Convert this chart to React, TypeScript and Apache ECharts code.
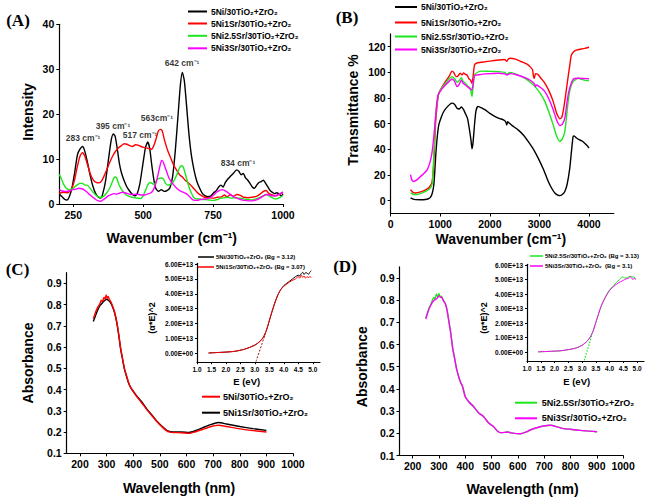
import React, { useEffect, useRef } from 'react';
import * as echarts from 'echarts';

// ---------- names ----------
const N_NI = '5Ni/30TiO₂+ZrO₂';
const N_SR1 = '5Ni1Sr/30TiO₂+ZrO₂';
const N_SR25 = '5Ni2.5Sr/30TiO₂+ZrO₂';
const N_SR3 = '5Ni3Sr/30TiO₂+ZrO₂';

// ---------- (A) Raman ----------
const ramanNi = [[200,2.2],[210,1.6],[220,1.0],[228,0.9],[235,1.5],[245,3.5],[255,7],[265,11],[275,12.3],[283,12.8],[290,12],[300,9.5],[310,6.5],[320,4],[330,2.3],[340,1.5],[348,1.3],[355,2.2],[365,5],[375,9.5],[385,14],[393,15.6],[400,15],[408,12],[415,9],[422,7],[430,5.5],[440,4],[450,3],[460,2.2],[470,1.8],[478,2.2],[488,4.5],[498,8.5],[508,12.5],[516,13.8],[523,12.5],[530,9],[538,5.5],[545,3.5],[555,2.8],[565,3.2],[575,2.8],[585,3],[595,3.5],[605,6],[615,12],[625,20],[633,26.5],[640,29.3],[647,27.5],[655,22],[663,16],[672,11],[682,7.5],[692,5],[702,3.5],[712,2.3],[722,1.8],[732,1.6],[742,1.8],[752,2.5],[762,3],[770,3.8],[778,4.2],[786,3.8],[794,4.8],[802,5.5],[812,6.2],[822,6.8],[834,7.6],[842,7.3],[850,6.5],[858,6.8],[866,5.8],[874,5.3],[882,4.6],[890,3.8],[898,3.5],[906,4.2],[914,4.8],[922,5],[930,5.3],[938,4.6],[946,3.8],[954,3],[962,2.6],[970,2.3],[978,2.5],[986,2.2],[994,1.8],[1000,2.2]];
const ramanSr1 = [[200,2.4],[215,2.6],[230,2.5],[245,3.5],[255,5.5],[265,8.5],[275,10.8],[283,11.4],[292,10.5],[302,8.5],[312,6.5],[322,5.3],[332,4.8],[342,4.7],[352,5.2],[362,6.5],[372,8],[382,9.5],[392,10.8],[402,11.8],[412,12.5],[422,13],[432,13.4],[442,13.3],[452,13],[462,12.8],[472,13.2],[482,13.1],[492,12.8],[502,12.6],[512,12.5],[522,12.3],[530,12.2],[538,13],[546,14.5],[554,16.2],[562,16.6],[568,16.3],[575,14.5],[582,13],[590,11.5],[600,10],[610,8.5],[620,7.5],[630,6.5],[640,6],[650,5.3],[660,4.8],[670,4.2],[680,3.5],[690,2.8],[700,2.2],[710,1.8],[720,1.5],[735,1.4],[750,1.3],[765,1.5],[780,1.6],[790,2],[800,1.6],[812,2.1],[822,1.7],[835,2.1],[848,1.9],[860,1.5],[875,1.4],[890,1.5],[905,1.7],[918,2.2],[930,2.8],[940,3],[950,2.3],[962,2],[975,1.8],[988,2.2],[1000,2.5]];
const ramanSr25 = [[200,6.6],[208,5.5],[216,4.3],[225,3.5],[235,3.2],[245,3.3],[255,3.8],[265,4.3],[275,4.6],[283,4.6],[292,4.2],[300,4.2],[310,3.5],[320,2.7],[330,2],[340,1.6],[350,1.5],[360,1.8],[370,2.5],[380,3.5],[390,5],[398,6],[405,5.8],[412,4.5],[420,3.5],[430,2.6],[440,2],[450,1.7],[460,1.5],[470,1.4],[480,1.3],[490,1.2],[500,1.8],[508,3],[516,4.2],[524,4.8],[532,4.6],[540,4.3],[548,5.3],[556,5.7],[564,5.8],[572,5.6],[580,4.6],[588,4.2],[596,4.3],[604,4.6],[612,5.4],[620,6.5],[628,7.8],[636,8.5],[642,8.4],[648,7.3],[656,5.5],[664,3.8],[672,2.5],[680,1.5],[690,1.1],[700,1.1],[710,1],[720,1],[735,0.9],[750,0.8],[765,1],[778,1.3],[790,1.4],[800,1.5],[812,1.3],[825,1.4],[840,1.3],[855,1.2],[870,1],[885,0.9],[900,1.1],[915,1.4],[928,1.8],[940,2.1],[950,1.8],[962,1.4],[975,1.1],[988,1.4],[1000,1.9]];
const ramanSr3 = [[200,3.2],[210,2.9],[222,2.8],[235,2.9],[248,3.2],[260,3.3],[270,3.5],[280,3.4],[290,3.1],[300,2.6],[310,2],[320,1.5],[330,1],[340,0.7],[348,0.6],[356,0.9],[365,1.3],[375,1.8],[385,2.1],[395,2.3],[405,2.2],[415,2.4],[425,2.6],[435,2.5],[445,2.3],[455,2.1],[465,2.1],[475,2.2],[485,2.1],[495,2],[505,2],[515,2.2],[525,2.4],[535,3],[545,4.5],[553,6.5],[560,8.5],[566,9.7],[572,9.3],[578,8.2],[585,7],[592,5.8],[600,5],[610,4.2],[620,3.5],[630,3],[640,2.7],[650,2.4],[660,2],[668,1.5],[676,1],[684,0.8],[694,0.8],[705,1],[718,1.1],[730,1.2],[742,1.5],[752,2],[762,2.6],[772,3],[782,3.2],[792,3],[802,2.6],[812,2.1],[822,1.7],[835,1.3],[848,1],[860,0.8],[875,0.7],[890,0.7],[905,0.9],[918,1.3],[930,1.8],[942,2.1],[952,2],[962,1.8],[975,1.9],[988,2.2],[1000,2.7]];
const ramanPeaks = [[285,14.7,'283 cm⁻¹'],[392,17.3,'395 cm⁻¹'],[489,15.3,'517 cm⁻¹'],[549,19.1,'563cm⁻¹'],[639,31.3,'642 cm⁻¹'],[839,9.1,'834 cm⁻¹']];
const ramanXTicks = [250, 500, 750, 1000];
const ramanYTicks = [0, 10, 20, 30, 40];

// ---------- (B) FTIR ----------
const ftirNi = [[400,2.1],[450,1.2],[500,0.8],[600,0.7],[700,0.9],[760,1.5],[800,2.5],[840,6],[870,12.4],[890,23],[910,36],[940,50],[970,59],[1020,65],[1070,69.5],[1150,73.5],[1237,76],[1290,75],[1338,72],[1380,71.5],[1425,73],[1470,71],[1505,68],[1550,64],[1590,55],[1620,47],[1640,40.4],[1660,45],[1692,60],[1720,70],[1759,73.5],[1800,73],[1850,72],[1906,70.8],[2000,68],[2107,65.6],[2200,64],[2274,63],[2320,61.5],[2341,59],[2360,61.5],[2388,60.5],[2450,58.5],[2575,55],[2680,51],[2776,46],[2880,40],[2977,33],[3080,24.5],[3178,15],[3250,9.5],[3311,6],[3370,4.3],[3411,3.9],[3460,4.8],[3512,7.2],[3560,13],[3612,25.4],[3650,40],[3679,50],[3700,50.5],[3746,48.8],[3800,47.5],[3860,46.5],[3913,44.8],[3960,43],[4000,41]];
const ftirSr1 = [[400,8.5],[450,6.5],[501,6],[600,6.8],[702,8.5],[780,10.5],[836,15],[870,30],[903,59],[940,76],[970,83.8],[1040,89],[1104,92.8],[1180,97],[1237,101],[1270,100],[1317,96.7],[1350,97],[1404,99.3],[1440,98],[1470,99.5],[1505,98.5],[1540,98],[1572,95.4],[1610,94],[1639,91.5],[1660,96],[1692,106],[1750,107.5],[1906,108.3],[2000,108.8],[2174,109.7],[2300,110],[2341,108.5],[2370,110.2],[2408,111],[2500,110.5],[2642,108.3],[2750,106.5],[2810,104.5],[2860,102],[2880,97],[2897,95.4],[2920,99],[2964,98.5],[3040,95],[3111,91.5],[3200,85],[3278,77.2],[3340,69],[3378,65.6],[3411,63.8],[3450,65],[3478,69.5],[3520,80],[3565,92.8],[3610,105],[3645,113.5],[3700,116.5],[3746,117.4],[3850,118.2],[3913,118.7],[4000,119.6]];
const ftirSr25 = [[400,6],[450,5],[501,4.7],[600,5.5],[702,7.2],[780,9],[836,13],[870,35],[903,64.3],[940,78],[970,83.8],[1040,88.5],[1104,91.5],[1180,95],[1237,96.7],[1290,95],[1338,92.3],[1380,93.5],[1425,95.9],[1460,93],[1505,91.5],[1560,89],[1605,87.6],[1625,84],[1639,81.1],[1660,88],[1692,98],[1760,100.3],[1840,101],[2000,100.8],[2174,100.6],[2300,100],[2341,98.5],[2408,100],[2500,99],[2600,97.5],[2709,95.4],[2810,92.5],[2910,88.9],[3010,84],[3111,77.2],[3200,68],[3278,59.1],[3350,50],[3411,46.1],[3460,48],[3512,53.9],[3545,65],[3579,77.2],[3620,87],[3679,92.8],[3779,95.4],[3900,94],[4000,93.4]];
const ftirSr3 = [[400,20.2],[430,16],[468,15],[520,16],[568,17.6],[650,20.5],[736,24],[800,31],[836,38.3],[870,50],[903,64.3],[930,76],[957,82.4],[1030,87],[1104,90.2],[1180,93],[1237,94.9],[1290,93],[1338,88.9],[1380,90.5],[1425,94],[1460,91.5],[1505,90.2],[1560,88.5],[1625,86.3],[1650,88],[1692,97.4],[1800,98.3],[1906,98.8],[2174,99.3],[2300,98.8],[2341,98],[2408,99],[2550,98],[2709,95.9],[2830,93.5],[2900,91],[2920,89],[2944,90.2],[3030,88],[3111,85],[3200,78.5],[3278,70.8],[3350,62.5],[3411,58.6],[3460,59.5],[3512,64.3],[3550,75],[3592,85],[3679,94.6],[3779,95.4],[3900,95.2],[4000,95]];
const ftirXTicks = [0, 1000, 2000, 3000, 4000];
const ftirYTicks = [0, 20, 40, 60, 80, 100, 120];

// ---------- (C)/(D) UV-vis ----------
const uvNi = [[250,0.735],[256,0.755],[262,0.775],[268,0.79],[275,0.805],[280,0.82],[285,0.815],[290,0.835],[294,0.825],[298,0.845],[302,0.83],[306,0.838],[310,0.825],[315,0.815],[322,0.795],[330,0.765],[338,0.72],[345,0.665],[352,0.6],[360,0.545],[367,0.5],[375,0.465],[382,0.435],[390,0.41],[400,0.39],[410,0.372],[430,0.34],[450,0.307],[470,0.277],[490,0.247],[510,0.222],[530,0.202],[550,0.198],[580,0.197],[610,0.194],[630,0.2],[660,0.212],[690,0.225],[720,0.232],[750,0.226],[800,0.215],[850,0.207],[900,0.2]];
const uvSr1 = [[250,0.72],[256,0.74],[262,0.76],[268,0.778],[275,0.795],[282,0.805],[288,0.815],[294,0.82],[300,0.825],[306,0.82],[315,0.808],[322,0.79],[330,0.76],[338,0.715],[345,0.66],[352,0.595],[360,0.54],[367,0.495],[375,0.46],[382,0.432],[390,0.41],[400,0.392],[410,0.375],[430,0.345],[450,0.31],[470,0.28],[490,0.25],[510,0.225],[530,0.205],[550,0.2],[580,0.2],[610,0.198],[630,0.205],[660,0.22],[690,0.235],[720,0.245],[750,0.238],[800,0.226],[850,0.216],[900,0.208]];
const uvSr25 = [[250,0.72],[256,0.74],[262,0.765],[268,0.778],[275,0.8],[280,0.812],[285,0.805],[290,0.828],[295,0.815],[300,0.83],[305,0.812],[310,0.818],[316,0.8],[322,0.79],[330,0.76],[337,0.71],[345,0.65],[352,0.585],[360,0.535],[367,0.49],[375,0.455],[382,0.43],[390,0.41],[400,0.365],[415,0.34],[432,0.32],[450,0.293],[470,0.275],[490,0.245],[508,0.23],[520,0.213],[533,0.203],[550,0.204],[560,0.206],[575,0.202],[609,0.198],[630,0.205],[647,0.215],[675,0.226],[698,0.233],[723,0.236],[750,0.229],[774,0.221],[800,0.218],[837,0.213],[870,0.21],[901,0.207]];
const uvSr3 = [[250,0.715],[256,0.74],[262,0.76],[268,0.775],[275,0.79],[282,0.8],[288,0.805],[294,0.81],[300,0.82],[306,0.815],[312,0.81],[318,0.795],[324,0.785],[330,0.76],[337,0.71],[345,0.65],[352,0.585],[360,0.535],[367,0.49],[375,0.455],[382,0.43],[390,0.41],[400,0.365],[415,0.34],[432,0.32],[450,0.293],[470,0.275],[490,0.245],[508,0.23],[520,0.213],[533,0.203],[550,0.204],[560,0.206],[575,0.202],[609,0.198],[630,0.205],[647,0.215],[675,0.226],[698,0.233],[723,0.236],[750,0.229],[774,0.221],[800,0.218],[837,0.213],[870,0.21],[901,0.207]];
const uvXTicks = [200, 300, 400, 500, 600, 700, 800, 900, 1000];
const uvYTicks = [0.1, 0.2, 0.3, 0.4, 0.5, 0.6, 0.7, 0.8, 0.9];

// ---------- Tauc insets (y in units of 1E+13) ----------
const taucNi = [[1.4,0.02],[1.7,0.05],[2.0,0.08],[2.3,0.13],[2.6,0.25],[2.8,0.38],[3.0,0.55],[3.1,0.68],[3.2,0.85],[3.3,1.1],[3.4,1.55],[3.5,2.2],[3.6,2.85],[3.7,3.45],[3.8,3.95],[3.9,4.3],[4.0,4.55],[4.1,4.7],[4.2,4.85],[4.3,5.0],[4.4,5.15],[4.5,5.25],[4.55,5.2],[4.6,5.35],[4.65,5.45],[4.7,5.3],[4.75,5.42],[4.8,5.4],[4.85,5.3],[4.9,5.45],[4.95,5.55]];
const taucSr1 = [[1.4,0.02],[1.7,0.05],[2.0,0.08],[2.3,0.13],[2.6,0.25],[2.8,0.38],[3.0,0.55],[3.1,0.68],[3.2,0.85],[3.3,1.1],[3.4,1.55],[3.5,2.2],[3.6,2.85],[3.7,3.45],[3.8,3.95],[3.9,4.3],[4.0,4.5],[4.1,4.65],[4.2,4.8],[4.3,4.9],[4.4,5.0],[4.5,5.15],[4.55,5.05],[4.6,5.25],[4.65,5.1],[4.7,5.2],[4.75,5.05],[4.8,5.15],[4.85,5.1],[4.9,5.15],[4.95,5.1]];
const taucFitC = [[3.04,-0.55],[3.36,1.3]];
const taucSr25 = [[1.4,0.03],[1.8,0.06],[2.2,0.1],[2.5,0.18],[2.8,0.3],[3.0,0.48],[3.1,0.62],[3.2,0.8],[3.3,1.05],[3.4,1.45],[3.5,2.05],[3.6,2.65],[3.7,3.2],[3.8,3.65],[3.9,4.0],[4.0,4.3],[4.1,4.5],[4.2,4.7],[4.3,4.9],[4.4,5.05],[4.45,5.2],[4.5,5.15],[4.6,5.1],[4.7,5.2],[4.8,5.2],[4.9,5.15],[4.95,5.05]];
const taucSr3 = [[1.4,0.03],[1.8,0.06],[2.2,0.1],[2.5,0.18],[2.8,0.3],[3.0,0.48],[3.1,0.62],[3.2,0.8],[3.3,1.05],[3.4,1.45],[3.5,2.05],[3.6,2.65],[3.7,3.2],[3.8,3.6],[3.9,3.95],[4.0,4.25],[4.1,4.45],[4.2,4.6],[4.3,4.75],[4.4,4.85],[4.5,4.95],[4.6,5.05],[4.7,5.1],[4.75,5.2],[4.8,5.12],[4.85,5.0],[4.9,5.1],[4.95,5.0]];
const taucFitD = [[3.08,-0.55],[3.36,1.2]];
const taucXTicks = [1.0, 1.5, 2.0, 2.5, 3.0, 3.5, 4.0, 4.5, 5.0];
const taucYTicks = [0, 1, 2, 3, 4, 5, 6];

// ---------- styling ----------
const BLACK = '#000000';
const RED = '#ff0000';
const GREEN = '#1ee61e';
const MAGENTA = '#ff00ff';
const SANS = '"Liberation Sans", Arial, sans-serif';
const SERIF = '"Liberation Serif", "Times New Roman", serif';

const plainFmt = (v: number) => String(v);

function xAxis(gridIndex: number, min: number, max: number, ticks: number[], fontSize: number, tickLen: number, fmt: (v: number) => string = plainFmt) {
  return {
    type: 'value', gridIndex, min, max,
    axisLine: { show: true, onZero: false, lineStyle: { color: BLACK, width: 1.2 } },
    axisTick: { show: true, inside: false, length: tickLen, customValues: ticks, lineStyle: { color: BLACK, width: 1 } },
    axisLabel: { show: true, customValues: ticks, color: BLACK, fontSize, fontWeight: 'bold', fontFamily: SANS, margin: tickLen + 2, formatter: fmt },
    splitLine: { show: false },
  };
}
function yAxis(gridIndex: number, min: number, max: number, ticks: number[], fontSize: number, tickLen: number, fmt: (v: number) => string = plainFmt) {
  return {
    type: 'value', gridIndex, min, max,
    axisLine: { show: true, onZero: false, lineStyle: { color: BLACK, width: 1.2 } },
    axisTick: { show: true, inside: false, length: tickLen, customValues: ticks, lineStyle: { color: BLACK, width: 1 } },
    axisLabel: { show: true, customValues: ticks, color: BLACK, fontSize, fontWeight: 'bold', fontFamily: SANS, margin: tickLen + 2, formatter: fmt },
    splitLine: { show: false },
  };
}
function line(name: string, data: number[][], color: string, idx: number, width = 1.4, type: any = 'solid') {
  return {
    type: 'line', name, data, xAxisIndex: idx, yAxisIndex: idx,
    showSymbol: false, symbol: 'none', smooth: 0.2,
    lineStyle: { color, width, type }, itemStyle: { color },
    silent: true, z: 3,
  };
}
function legendItem(x1: number, x2: number, y: number, tx: number, text: string, color: string, fontSize: number, lw = 2) {
  return [
    { type: 'line', shape: { x1, y1: y, x2, y2: y }, style: { stroke: color, lineWidth: lw } },
    { type: 'text', x: tx, y, style: { text, fill: BLACK, fontSize, fontWeight: 'bold', fontFamily: SANS, align: 'left', verticalAlign: 'middle' } },
  ];
}
function label(x: number, y: number, text: string, fontSize: number, rotate = false, family = SANS) {
  return {
    type: 'text', x, y, rotation: rotate ? Math.PI / 2 : 0,
    style: { text, fill: BLACK, fontSize, fontWeight: 'bold', fontFamily: family, align: 'center', verticalAlign: 'middle' },
  };
}

const uvFmt = (v: number) => v.toFixed(1);
const taucXFmt = (v: number) => v.toFixed(1);
const taucYFmt = (v: number) => (v === 0 ? '0.00E+00' : v.toFixed(2) + 'E+13');

function buildOption() {
  const grid = [
    { left: 59.3, top: 24.3, width: 223.7, height: 179.7 },   // A
    { left: 390.7, top: 33.9, width: 223.1, height: 179.6 },  // B
    { left: 66.7, top: 272.7, width: 226.3, height: 180.6 },  // C
    { left: 197, top: 263.3, width: 123, height: 98.9 },      // C inset
    { left: 399.5, top: 266.9, width: 223.6, height: 188.6 }, // D
    { left: 527, top: 264.3, width: 117, height: 96.7 },      // D inset
  ].map((g) => ({ ...g, containLabel: false }));

  const xAxes = [
    xAxis(0, 200, 1000, ramanXTicks, 10.5, 3),
    xAxis(1, 0, 4500, ftirXTicks, 10.5, 3),
    xAxis(2, 150, 1000, uvXTicks, 10.5, 3),
    xAxis(3, 1.0, 5.25, taucXTicks, 6.5, 2, taucXFmt),
    xAxis(4, 150, 1000, uvXTicks, 10.5, 3),
    xAxis(5, 1.0, 5.25, taucXTicks, 6.5, 2, taucXFmt),
  ];
  const yAxes = [
    yAxis(0, 0, 40, ramanYTicks, 10.5, 3),
    yAxis(1, -10, 130, ftirYTicks, 10.5, 3),
    yAxis(2, 0.1, 0.95, uvYTicks, 10.5, 3, uvFmt),
    yAxis(3, -0.6, 6.05, taucYTicks, 6.5, 2, taucYFmt),
    yAxis(4, 0.1, 0.95, uvYTicks, 10.5, 3, uvFmt),
    yAxis(5, -0.6, 6.05, taucYTicks, 6.5, 2, taucYFmt),
  ];

  const series: any[] = [
    line(N_NI, ramanNi, BLACK, 0),
    line(N_SR1, ramanSr1, RED, 0),
    line(N_SR25, ramanSr25, GREEN, 0),
    line(N_SR3, ramanSr3, MAGENTA, 0),
    {
      type: 'scatter', xAxisIndex: 0, yAxisIndex: 0, symbolSize: 0, silent: true,
      data: ramanPeaks.map((p) => ({ value: [p[0], p[1]], name: p[2] })),
      label: { show: true, position: 'inside', formatter: (p: any) => p.name, color: BLACK, fontSize: 8.5, fontWeight: 'bold', fontFamily: SANS },
    },
    line(N_NI, ftirNi, BLACK, 1),
    line(N_SR1, ftirSr1, RED, 1),
    line(N_SR25, ftirSr25, GREEN, 1),
    line(N_SR3, ftirSr3, MAGENTA, 1),
    line(N_SR1, uvSr1, BLACK, 2),
    line(N_NI, uvNi, RED, 2),
    line(N_NI, taucNi, BLACK, 3, 1),
    line(N_SR1, taucSr1, RED, 3, 1),
    line('fitC', taucFitC, '#9b1c1c', 3, 1, [2, 1.5]),
    line(N_SR25, uvSr25, GREEN, 4),
    line(N_SR3, uvSr3, MAGENTA, 4),
    line(N_SR25, taucSr25, GREEN, 5, 1),
    line(N_SR3, taucSr3, MAGENTA, 5, 1),
    line('fitD', taucFitD, GREEN, 5, 1.2, [1.5, 1.5]),
  ];

  const graphic: any[] = [
    // panel letters
    label(18, 20, '(A)', 17, false, SERIF),
    label(347, 17.5, '(B)', 17, false, SERIF),
    label(17.5, 269, '(C)', 17, false, SERIF),
    label(345, 266.5, '(D)', 17, false, SERIF),
    // axis names
    label(28, 112, 'Intensity', 14, true),
    label(171.7, 238.3, 'Wavenumber (cm⁻¹)', 14),
    label(353.3, 110, 'Transmittance %', 14, true),
    label(500.8, 239.3, 'Wavenumber (cm⁻¹)', 14),
    label(28, 363, 'Absorbance', 14, true),
    label(179, 488.3, 'Wavelength (nm)', 14),
    label(361.7, 366.7, 'Absorbance', 14, true),
    label(522.5, 489.3, 'Wavelength (nm)', 14),
    label(151.7, 318, '(α*E)^2', 9, true),
    label(246.7, 381.7, 'E (eV)', 9.5),
    label(484, 318, '(α*E)^2', 9, true),
    label(576.7, 381.7, 'E (eV)', 9.5),
    // legends
    ...legendItem(188, 207, 11.5, 211, N_NI, BLACK, 8.5),
    ...legendItem(188, 207, 23.5, 211, N_SR1, RED, 8.5),
    ...legendItem(188, 207, 35.8, 211, N_SR25, GREEN, 8.5),
    ...legendItem(188, 207, 48.3, 211, N_SR3, MAGENTA, 8.5),
    ...legendItem(395, 417, 7, 421, N_NI, BLACK, 8.5),
    ...legendItem(395, 417, 22.5, 421, N_SR1, RED, 8.5),
    ...legendItem(395, 417, 36.5, 421, N_SR25, GREEN, 8.5),
    ...legendItem(395, 417, 49.5, 421, N_SR3, MAGENTA, 8.5),
    ...legendItem(202, 220, 396.7, 223, N_NI, RED, 9),
    ...legendItem(202, 220, 412.7, 223, N_SR1, BLACK, 9),
    ...legendItem(515, 537, 402.7, 541.7, N_SR25, GREEN, 9),
    ...legendItem(515, 537, 418.3, 541.7, N_SR3, MAGENTA, 9),
    ...legendItem(198, 214, 257, 216, N_NI + ' (Bg = 3.12)', BLACK, 6, 1.5),
    ...legendItem(198, 214, 267, 216, N_SR1 + ' (Bg = 3.07)', RED, 6, 1.5),
    ...legendItem(530, 543, 256, 545, N_SR25 + ' (Bg = 3.13)', GREEN, 6, 1.5),
    ...legendItem(530, 543, 266, 545, N_SR3 + '  (Bg = 3.1)', MAGENTA, 6, 1.5),
  ];

  return {
    animation: false,
    backgroundColor: '#ffffff',
    grid,
    xAxis: xAxes,
    yAxis: yAxes,
    series,
    graphic: { elements: graphic },
  };
}

export default function App() {
  const ref = useRef<HTMLDivElement>(null);
  useEffect(() => {
    document.body.style.margin = '0';
    const chart = echarts.init(ref.current as HTMLDivElement, null, { renderer: 'svg' });
    chart.setOption(buildOption() as any);
    return () => chart.dispose();
  }, []);
  return <div ref={ref} style={{ width: 661, height: 504 }} />;
}
